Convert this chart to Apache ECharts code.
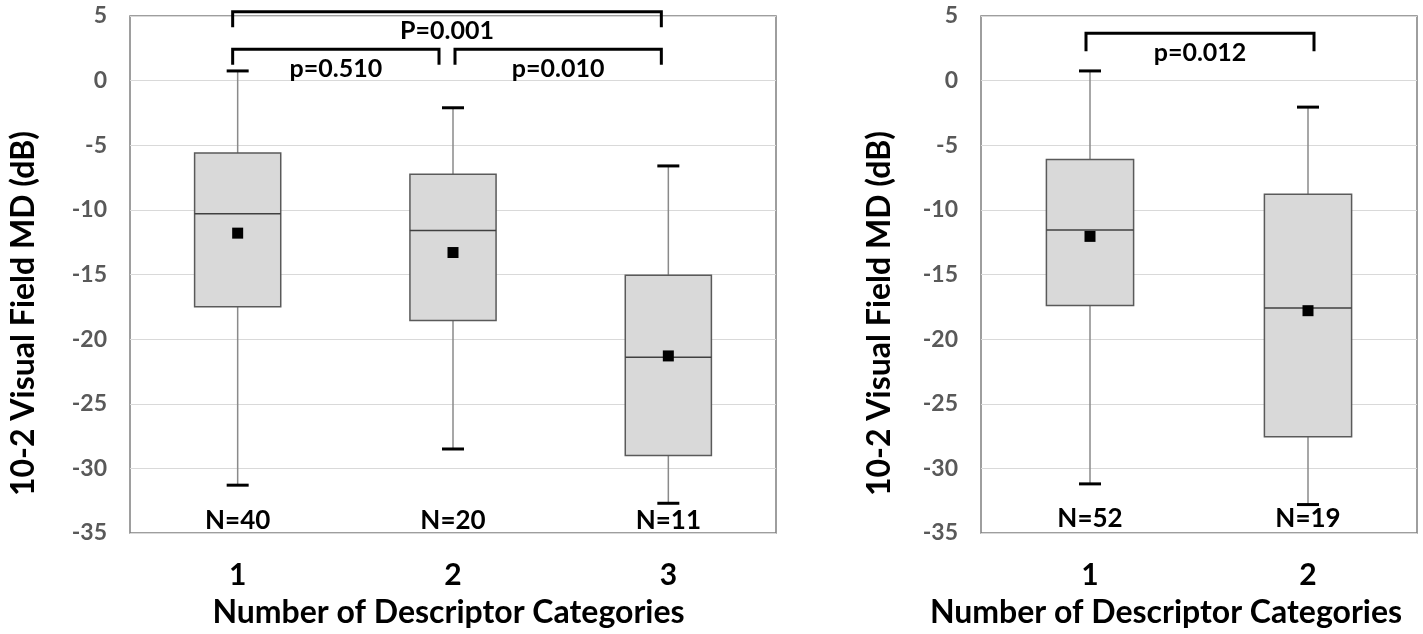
<!DOCTYPE html>
<html><head><meta charset="utf-8">
<script src="https://cdn.jsdelivr.net/npm/echarts@6/dist/echarts.min.js"></script>
<style>html,body{margin:0;padding:0;background:#fff;overflow:hidden}#c{width:1423px;height:634px}</style>
</head><body><div id="c"></div>
<script>
// ---------- data ----------
const yTicks = { min: -35, max: 5, step: 5 };

const categoriesLeft = ['1', '2', '3'];
const lowLeft  = [-31.3, -28.5, -32.7];
const q1Left   = [-17.5, -18.55, -29.0];
const medLeft  = [-10.3, -11.6, -21.4];
const q3Left   = [-5.6, -7.25, -15.05];
const highLeft = [0.75, -2.1, -6.6];
const meanLeft = [-11.8, -13.3, -21.3];
const nLeft    = ['N=40', 'N=20', 'N=11'];
const bracketFromLeft  = [0, 0, 1];
const bracketToLeft    = [2, 1, 2];
const bracketTierLeft  = [0, 1, 1];
const bracketLabelLeft = ['P=0.001', 'p=0.510', 'p=0.010'];

const categoriesRight = ['1', '2'];
const lowRight  = [-31.2, -32.8];
const q1Right   = [-17.4, -27.55];
const medRight  = [-11.55, -17.6];
const q3Right   = [-6.1, -8.8];
const highRight = [0.75, -2.05];
const meanRight = [-12.05, -17.8];
const nRight    = ['N=52', 'N=19'];
const bracketFromRight  = [0];
const bracketToRight    = [1];
const bracketTierRight  = [0];
const bracketLabelRight = ['p=0.012'];

const xTitle = 'Number of Descriptor Categories';
const yTitle = '10-2 Visual Field MD (dB)';

// ---------- style ----------
const FONT = 'Lato';
function boxRows(low, q1, med, q3, high) {
  return low.map((v, i) => [i, v, q1[i], med[i], q3[i], high[i]]);
}
function makeBoxRender(nLabels, nOffset) {
  return function (params, api) {
    const i = api.value(0);
    const cx = api.coord([i, 0])[0];
    const band = api.size([1, 0])[0];
    const hw = band * 0.2;
    const yl = api.coord([i, api.value(1)])[1];
    const yq1 = api.coord([i, api.value(2)])[1];
    const ym = api.coord([i, api.value(3)])[1];
    const yq3 = api.coord([i, api.value(4)])[1];
    const yh = api.coord([i, api.value(5)])[1];
    const cs = params.coordSys;
    const wh = { stroke: '#8a8a8a', lineWidth: 1.5 };
    return {
      type: 'group',
      children: [
        { type: 'line', shape: { x1: cx, y1: yh, x2: cx, y2: yq3 }, style: wh },
        { type: 'line', shape: { x1: cx, y1: yq1, x2: cx, y2: yl }, style: wh },
        { type: 'rect', shape: { x: cx - hw, y: yq3, width: 2 * hw, height: yq1 - yq3 },
          style: { fill: '#d9d9d9', stroke: '#5a5a5a', lineWidth: 1.5 } },
        { type: 'line', shape: { x1: cx - hw, y1: ym, x2: cx + hw, y2: ym },
          style: { stroke: '#404040', lineWidth: 1.5 } },
        { type: 'line', shape: { x1: cx - 11, y1: yh, x2: cx + 11, y2: yh },
          style: { stroke: '#000', lineWidth: 3 } },
        { type: 'line', shape: { x1: cx - 11, y1: yl, x2: cx + 11, y2: yl },
          style: { stroke: '#000', lineWidth: 3 } },
        { type: 'text', x: cx, y: cs.y + cs.height - nOffset, z2: 10,
          style: { text: nLabels[i], align: 'center', verticalAlign: 'middle',
            fontFamily: FONT, fontWeight: 'bold', fontSize: 26, fill: '#000' } }
      ]
    };
  };
}
function makeBracketRender(labels, cfg) {
  return function (params, api) {
    const k = params.dataIndex;
    const a = api.value(0), b = api.value(1), tier = api.value(2);
    const cs = params.coordSys;
    const xa = api.coord([a, 0])[0] + cfg.dx[k][0];
    const xb = api.coord([b, 0])[0] + cfg.dx[k][1];
    const y = cs.y + cfg.tierY[tier];
    const y2 = y + cfg.drop;
    return {
      type: 'group',
      children: [
        { type: 'polyline', shape: { points: [[xa, y2], [xa, y], [xb, y], [xb, y2]] },
          style: { stroke: '#000', lineWidth: 3, fill: null } },
        { type: 'text', x: (xa + xb) / 2, y: y + 19.5,
          style: { text: labels[k], align: 'center', verticalAlign: 'middle',
            fontFamily: FONT, fontWeight: 'bold', fontSize: 25, fill: '#000' } }
      ]
    };
  };
}

function xAxisCfg(gi, cats, namePad) {
  return {
    gridIndex: gi, type: 'category', data: cats,
    axisLine: { show: false }, axisTick: { show: false },
    axisLabel: { margin: 27, fontSize: 30, fontWeight: 'bold', color: '#000', fontFamily: FONT },
    name: xTitle, nameLocation: 'middle', nameGap: 64,
    nameTextStyle: { fontSize: 32, fontWeight: 'bold', color: '#000', fontFamily: FONT, padding: namePad }
  };
}
function yAxisCfg(gi, gap) {
  return {
    gridIndex: gi, type: 'value', min: yTicks.min, max: yTicks.max, interval: yTicks.step,
    axisLine: { show: false }, axisTick: { show: false },
    splitLine: { lineStyle: { color: '#d9d9d9', width: 1 } },
    axisLabel: { margin: 23, fontSize: 23, fontWeight: 'bold', color: '#595959', fontFamily: FONT },
    name: yTitle, nameLocation: 'middle', nameGap: gap, nameRotate: 90,
    nameTextStyle: { fontSize: 32, fontWeight: 'bold', color: '#000', fontFamily: FONT, padding: [0, 78, 0, 0] }
  };
}

const chart = echarts.init(document.getElementById('c'), null, { renderer: 'canvas' });
chart.setOption({
  animation: false,
  backgroundColor: '#fff',
  grid: [
    { left: 130, top: 16, width: 646, height: 521, show: true, borderColor: '#7f7f7f', borderWidth: 1.5, backgroundColor: 'transparent' },
    { left: 981, top: 16, width: 436, height: 521, show: true, borderColor: '#7f7f7f', borderWidth: 1.5, backgroundColor: 'transparent' }
  ],
  xAxis: [xAxisCfg(0, categoriesLeft, [0, 9, 0, 0]), xAxisCfg(1, categoriesRight, [0, 66, 0, 0])],
  yAxis: [yAxisCfg(0, 90), yAxisCfg(1, 85)],
  series: [
    { type: 'custom', xAxisIndex: 0, yAxisIndex: 0, clip: false,
      data: boxRows(lowLeft, q1Left, medLeft, q3Left, highLeft),
      encode: { x: 0, y: [1, 2, 3, 4, 5] }, renderItem: makeBoxRender(nLeft, 12) },
    { type: 'custom', xAxisIndex: 1, yAxisIndex: 1, clip: false,
      data: boxRows(lowRight, q1Right, medRight, q3Right, highRight),
      encode: { x: 0, y: [1, 2, 3, 4, 5] }, renderItem: makeBoxRender(nRight, 14) },
    { type: 'scatter', xAxisIndex: 0, yAxisIndex: 0, symbol: 'rect', symbolSize: 11,
      itemStyle: { color: '#000', opacity: 1 }, data: meanLeft, z: 5 },
    { type: 'scatter', xAxisIndex: 1, yAxisIndex: 1, symbol: 'rect', symbolSize: 11,
      itemStyle: { color: '#000', opacity: 1 }, data: meanRight, z: 5 },
    { type: 'custom', xAxisIndex: 0, yAxisIndex: 0, clip: false,
      data: bracketFromLeft.map((f, i) => [f, bracketToLeft[i], bracketTierLeft[i]]),
      encode: { x: [0, 1] },
      renderItem: makeBracketRender(bracketLabelLeft, { dx: [[-5, -7], [-5, -14], [2, -7]], tierY: [-4.3, 33.3], drop: 15.5 }) },
    { type: 'custom', xAxisIndex: 1, yAxisIndex: 1, clip: false,
      data: bracketFromRight.map((f, i) => [f, bracketToRight[i], bracketTierRight[i]]),
      encode: { x: [0, 1] },
      renderItem: makeBracketRender(bracketLabelRight, { dx: [[-4, 6]], tierY: [17.3], drop: 18 }) }
  ]
});
</script>
</body></html>
